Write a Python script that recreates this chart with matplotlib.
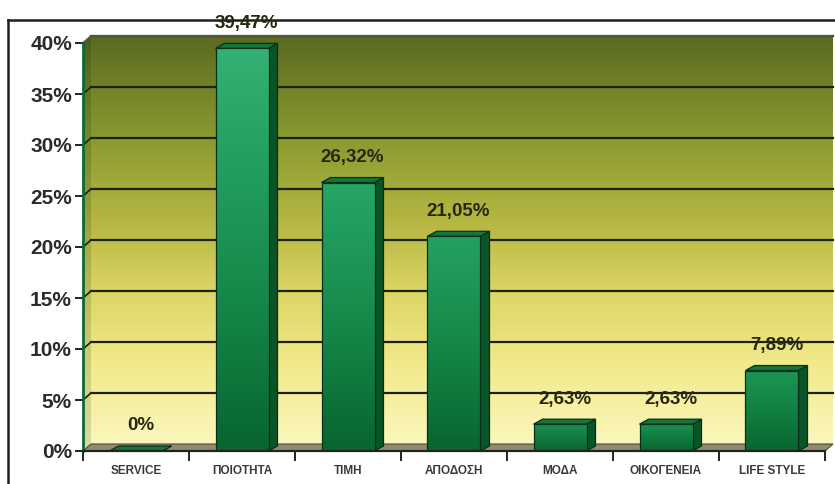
import numpy as np
import matplotlib
matplotlib.use("Agg")
import matplotlib.pyplot as plt
from matplotlib.patches import Rectangle, Polygon
from matplotlib.colors import LinearSegmentedColormap
from matplotlib.lines import Line2D

# ---- data ----
categories = ["SERVICE", "ΠΟΙΟΤΗΤΑ", "ΤΙΜΗ", "ΑΠΟΔΟΣΗ", "ΜΟΔΑ", "ΟΙΚΟΓΕΝΕΙΑ", "LIFE STYLE"]
values = [0.0, 39.47, 26.32, 21.05, 2.63, 2.63, 7.89]
y_ticks = [0, 5, 10, 15, 20, 25, 30, 35, 40]
y_tick_labels = [f"{t}%" for t in y_ticks]

FONT = ["Liberation Sans", "DejaVu Sans"]
plt.rcParams["font.family"] = FONT

W, H = 835, 484
fig = plt.figure(figsize=(W / 100, H / 100), dpi=100)
fig.patch.set_facecolor("white")

# axes placed so that the front plane runs from x=83px to 825px, 0% at y=451px
px_per_cat = 106.0
px_per_pct = 10.2
x_lo, x_hi = -0.5, 6.6
y_lo, y_hi = 0.0, 41.5
left_px, zero_px = 83.0, 451.0
ax = fig.add_axes([left_px / W,
                   (H - zero_px) / H,
                   (x_hi - x_lo) * px_per_cat / W,
                   (y_hi - y_lo) * px_per_pct / H])
ax.set_xlim(x_lo, x_hi)
ax.set_ylim(y_lo, y_hi)
ax.patch.set_alpha(0)

# depth offsets (wall and bars) in data units
dxw, dyw = 8 / px_per_cat, 7 / px_per_pct
dxb, dyb = 9 / px_per_cat, 5 / px_per_pct
n = len(categories)
x_end = n - 0.5

wall_cmap = LinearSegmentedColormap.from_list(
    "wall",
    [(0.0, "#fbf7bc"), (0.2, "#f1e98a"), (0.38, "#dbd462"),
     (0.55, "#b4b642"), (0.75, "#8a9a30"), (1.0, "#5a6a20")])
grad = np.linspace(0, 1, 256).reshape(-1, 1)

# back wall
ax.imshow(grad, cmap=wall_cmap, origin="lower", aspect="auto",
          extent=[-0.5 + dxw, x_end + dxw, dyw, 40 + dyw], zorder=0)
# left side wall
side = Polygon([(-0.5, 0), (-0.5 + dxw, dyw), (-0.5 + dxw, 40 + dyw), (-0.5, 40)],
               closed=True, facecolor="none", edgecolor="none")
ax.add_patch(side)
im = ax.imshow(grad, cmap=wall_cmap, origin="lower", aspect="auto",
               extent=[-0.5, -0.5 + dxw, 0, 40 + dyw], zorder=0.5)
im.set_clip_path(side)
ax.add_patch(Polygon([(-0.5, 0), (-0.5 + dxw, dyw), (-0.5 + dxw, 40 + dyw), (-0.5, 40)],
                     closed=True, facecolor="#000000", alpha=0.12, edgecolor="none", zorder=0.6))
# floor
ax.add_patch(Polygon([(-0.5, 0), (x_end, 0), (x_end + dxw, dyw), (-0.5 + dxw, dyw)],
                     closed=True, facecolor="#8f8b6c", edgecolor="#4a4a38", lw=0.8, zorder=1))

# gridlines on back wall + diagonal on side wall
for t in y_ticks:
    if t == 0:
        continue
    ax.plot([-0.5 + dxw, x_end + dxw], [t + dyw, t + dyw], color="#1c2208", lw=1.6, zorder=1)
    ax.plot([-0.5, -0.5 + dxw], [t, t + dyw], color="#1c2208", lw=1.2, zorder=1)
# wall top edge
ax.plot([-0.5, -0.5 + dxw, x_end + dxw], [40, 40 + dyw, 40 + dyw], color="#6b6e58", lw=1.0, zorder=1)

# bars
bar_cmap = LinearSegmentedColormap.from_list(
    "bar", [(0.0, "#08652f"), (0.4, "#168a4b"), (0.75, "#24a262"), (1.0, "#34b273")])
bw = 0.5
edge = "#07301a"
for i, v in enumerate(values):
    x0, x1 = i - bw / 2, i + bw / 2
    # side face
    ax.add_patch(Polygon([(x1, 0), (x1 + dxb, dyb), (x1 + dxb, v + dyb), (x1, v)],
                         closed=True, facecolor="#0a5428", edgecolor=edge, lw=0.9, zorder=3))
    # top face
    ax.add_patch(Polygon([(x0, v), (x0 + dxb, v + dyb), (x1 + dxb, v + dyb), (x1, v)],
                         closed=True, facecolor="#13763e", edgecolor=edge, lw=0.9, zorder=3))
    # front face with vertical gradient, lighter toward the top; short bars stay mid-green
    if v > 0:
        front = Rectangle((x0, 0), bw, v, facecolor="none", edgecolor="none")
        ax.add_patch(front)
        top_level = 0.45 + 0.55 * (v / 40)
        bar_grad = np.linspace(0, top_level, 256).reshape(-1, 1)
        g = ax.imshow(bar_grad, cmap=bar_cmap, vmin=0, vmax=1, origin="lower", aspect="auto",
                      extent=[x0, x1, 0, v], zorder=3.2)
        g.set_clip_path(front)
        ax.add_patch(Rectangle((x0, 0), bw, v, facecolor="none", edgecolor=edge, lw=0.9, zorder=3.4))
    label = "0%" if v == 0 else f"{v:.2f}".replace(".", ",") + "%"
    ax.annotate(label, xy=(i + dxb / 2, v), xytext=(0, 18), textcoords="offset points",
                ha="center", va="center", fontsize=13.5, fontweight="bold",
                color="#272812", zorder=6, annotation_clip=False)

ax.set_xlim(x_lo, x_hi)
ax.set_ylim(y_lo, y_hi)

# axes: spines, ticks, labels
for s in ["top", "right"]:
    ax.spines[s].set_visible(False)
ax.spines["left"].set_color("#0b6b33")
ax.spines["left"].set_linewidth(2.0)
ax.spines["left"].set_bounds(0, 40)
ax.spines["left"].set_zorder(5)
ax.spines["bottom"].set_color("#222222")
ax.spines["bottom"].set_linewidth(1.6)
ax.spines["bottom"].set_bounds(-0.5, x_end)
ax.spines["bottom"].set_zorder(5)

ax.set_yticks(y_ticks)
ax.set_yticklabels(y_tick_labels, fontsize=15, fontweight="bold", color="#2b2b2b")
ax.tick_params(axis="y", direction="out", length=6, width=1.4, color="#222222", pad=2)

ax.set_xticks(range(n))
ax.set_xticklabels(categories, fontsize=8.5, fontweight="bold", color="#3a3a3a")
ax.set_xticks(np.arange(-0.5, n, 1.0), minor=True)
ax.tick_params(axis="x", which="major", length=0, pad=10)
ax.tick_params(axis="x", which="minor", direction="out", length=7, width=1.4, color="#222222")

# outer chart frame
fig.add_artist(Line2D([8 / W, 1.0], [1 - 20 / H, 1 - 20 / H], color="#1e1e1e", lw=1.8,
                      transform=fig.transFigure, zorder=0))
fig.add_artist(Line2D([8 / W, 8 / W], [1 - 20 / H, 0.0], color="#1e1e1e", lw=1.8,
                      transform=fig.transFigure, zorder=0))

fig.savefig("out.png", dpi=100)
